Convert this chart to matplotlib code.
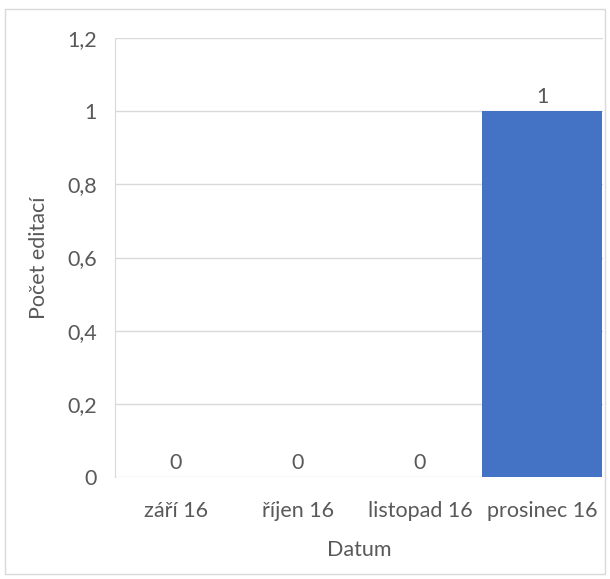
import matplotlib
matplotlib.use("Agg")
import matplotlib.pyplot as plt
from matplotlib.patches import Rectangle

categories = ["září 16", "říjen 16", "listopad 16", "prosinec 16"]
values = [0, 0, 0, 1]
yticks = [0, 0.2, 0.4, 0.6, 0.8, 1.0, 1.2]
ytick_labels = ["0", "0,2", "0,4", "0,6", "0,8", "1", "1,2"]

plt.rcParams['font.family'] = ['Lato', 'DejaVu Sans']
txt = '#595959'
grid = '#d9d9d9'
fs = 15.5

fig = plt.figure(figsize=(6.1, 5.79), dpi=100)
fig.patches.append(Rectangle((5/610, 5/579), 600/610, 565/579, transform=fig.transFigure,
                             fill=False, edgecolor=grid, linewidth=1))
ax = fig.add_axes([115/610, 102/579, 488/610, 439/579])
x = list(range(len(categories)))
ax.bar(x, values, width=0.99, color='#4472C4', zorder=3)
for xi, v in zip(x, values):
    ax.text(xi, v + 0.012, f"{v}", ha='center', va='bottom', fontsize=fs, color=txt)
ax.set_xlim(-0.5, 3.5)
ax.set_ylim(0, 1.2)
ax.set_yticks(yticks)
ax.set_yticklabels(ytick_labels)
ax.set_xticks(x)
ax.set_xticklabels(categories)
ax.yaxis.grid(True, color=grid, linewidth=1, zorder=0)
for s in ['top', 'right', 'bottom']:
    ax.spines[s].set_visible(False)
ax.spines['left'].set_color(grid)
ax.tick_params(axis='both', length=0, labelsize=fs, colors=txt)
ax.tick_params(axis='y', pad=13)
ax.tick_params(axis='x', pad=17)
ax.set_ylabel("Počet editací", fontsize=fs, color=txt, labelpad=13)
ax.set_xlabel("Datum", fontsize=fs, color=txt, labelpad=14)
fig.savefig("out.png", dpi=100)
